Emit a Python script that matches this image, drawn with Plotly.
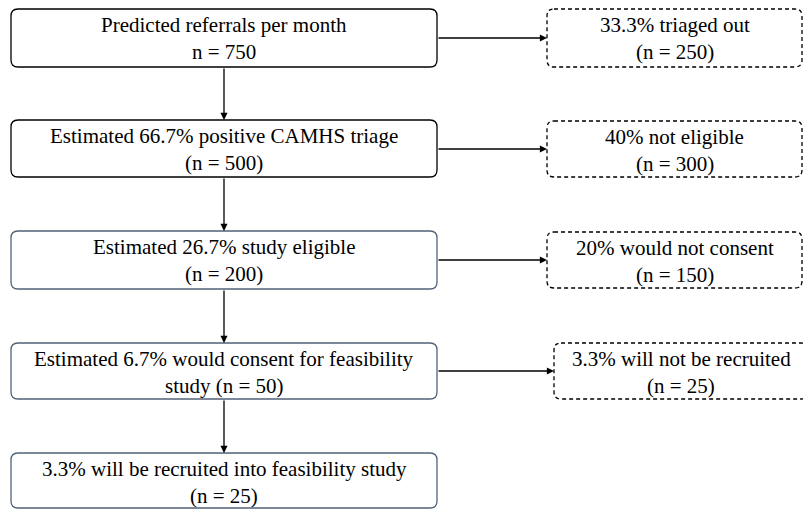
import plotly.graph_objects as go

# ---- data ----
main_line1 = [
    "Predicted referrals per month",
    "Estimated 66.7% positive CAMHS triage",
    "Estimated 26.7% study eligible",
    "Estimated 6.7% would consent for feasibility",
    "3.3% will be recruited into feasibility study",
]
main_line2 = ["n = 750", "(n = 500)", "(n = 200)", "study (n = 50)", "(n = 25)"]
side_line1 = [
    "33.3% triaged out",
    "40% not eligible",
    "20% would not consent",
    "3.3% will not be recruited",
]
side_line2 = ["(n = 250)", "(n = 300)", "(n = 150)", "(n = 25)"]

# ---- layout geometry (page pixels) ----
W, H = 811, 510
OFF = 8  # default page margin around the plot div
main_x0, main_x1 = 11, 437
main_tops = [9, 120, 231, 343, 453]
main_bots = [67, 177, 289, 399, 508]
main_colors = ["#000000", "#000000", "#52627a", "#52627a", "#52627a"]
side_x0 = [547, 547, 547, 554]
side_x1 = [802, 802, 802, 808]
side_tops = [9, 121, 232, 343]
side_bots = [67, 177, 288, 399]
FONT = "'Liberation Serif', 'Times New Roman', serif"
FS = 21


def rrect(x0, y0, x1, y1, r=7):
    return (f"M {x0+r},{y0} L {x1-r},{y0} Q {x1},{y0} {x1},{y0+r} "
            f"L {x1},{y1-r} Q {x1},{y1} {x1-r},{y1} L {x0+r},{y1} "
            f"Q {x0},{y1} {x0},{y1-r} L {x0},{y0+r} Q {x0},{y0} {x0+r},{y0} Z")


shapes = []
annotations = []

for i in range(len(main_line1)):
    t, b = main_tops[i], main_bots[i]
    shapes.append(dict(type="path", path=rrect(main_x0, t, main_x1, b),
                       line=dict(color=main_colors[i], width=1.3),
                       xref="x", yref="y", fillcolor="rgba(0,0,0,0)"))
    cx = (main_x0 + main_x1) / 2
    annotations.append(dict(x=cx, y=t + 16, text=main_line1[i], showarrow=False,
                            xanchor="center", yanchor="middle",
                            font=dict(family=FONT, size=FS, color="#000")))
    annotations.append(dict(x=cx, y=t + 43, text=main_line2[i], showarrow=False,
                            xanchor="center", yanchor="middle",
                            font=dict(family=FONT, size=FS, color="#000")))
    if i < len(main_line1) - 1:
        annotations.append(dict(x=224, y=main_tops[i + 1], ax=224, ay=b,
                                xref="x", yref="y", axref="x", ayref="y",
                                text="", showarrow=True, arrowhead=2,
                                arrowsize=1.1, arrowwidth=1.3, arrowcolor="#000"))

for i in range(len(side_line1)):
    x0, x1, t, b = side_x0[i], side_x1[i], side_tops[i], side_bots[i]
    shapes.append(dict(type="path", path=rrect(x0, t, x1, b),
                       line=dict(color="#000", width=1.3, dash="4px,3px"),
                       xref="x", yref="y", fillcolor="rgba(0,0,0,0)"))
    cx = (x0 + x1) / 2
    annotations.append(dict(x=cx, y=t + 16, text=side_line1[i], showarrow=False,
                            xanchor="center", yanchor="middle",
                            font=dict(family=FONT, size=FS, color="#000")))
    annotations.append(dict(x=cx, y=t + 43, text=side_line2[i], showarrow=False,
                            xanchor="center", yanchor="middle",
                            font=dict(family=FONT, size=FS, color="#000")))
    ym = (t + b) / 2
    annotations.append(dict(x=x0, y=ym, ax=main_x1, ay=ym,
                            xref="x", yref="y", axref="x", ayref="y",
                            text="", showarrow=True, arrowhead=2,
                            arrowsize=1.1, arrowwidth=1.3, arrowcolor="#000"))

fig = go.Figure()
fig.update_layout(
    width=W - OFF, height=H - OFF,
    margin=dict(l=0, r=0, t=0, b=0),
    font=dict(family=FONT),
    paper_bgcolor="white", plot_bgcolor="white",
    xaxis=dict(range=[OFF, W], visible=False, fixedrange=True),
    yaxis=dict(range=[H, OFF], visible=False, fixedrange=True),
    shapes=shapes, annotations=annotations, showlegend=False,
)
fig.write_html("out.html", config={"displayModeBar": False})
